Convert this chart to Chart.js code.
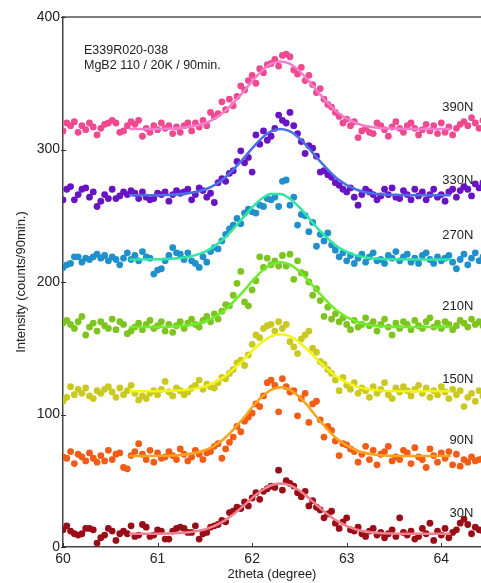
<!DOCTYPE html>
<html>
<head>
<meta charset="utf-8">
<script src="https://cdn.jsdelivr.net/npm/chart.js@4"></script>
<style>
  html, body { margin: 0; padding: 0; background: #fff; overflow: hidden; }
</style>
</head>
<body>
<canvas id="xrdChart" width="481" height="583"></canvas>
<script>
// 2theta sampling grid of the scan (60.00 .. 64.44, 0.04 deg step)
const scanStart = 60;
const scanStep = 0.04;

const loads = ["390N", "330N", "270N", "210N", "150N", "90N", "30N"];

// measured counts, one array per load
const counts390 = [314,320,318,321,313,318,315,320,317,311, 316,319,320,322,320,313,314,318,321,319,
  322,310,316,313,318,315,320,316,318,312, 317,313,318,320,314,320,317,322,318,328,
  325,327,336,330,338,333,340,348,345,352, 356,350,361,358,364,365,368,363,371,372,
  370,360,357,362,352,356,349,343,346,338, 334,332,328,325,320,323,318,321,309,314,
  316,313,312,320,318,315,310,317,321,316, 313,318,320,316,311,315,319,314,318,312,
  320,313,317,311,316,319,321,318,324,320,316,322];
const counts330 = [262,270,272,262,266,270,271,264,268,257, 261,266,263,270,263,265,268,266,269,267,
  263,268,264,262,263,267,266,268,261,266, 269,267,268,270,262,266,271,269,264,267,
  260,275,278,276,282,284,291,299,290,294, 283,311,304,314,307,310,316,326,322,320,
  328,318,312,306,297,303,301,295,283,284, 281,279,275,273,270,268,271,264,258,266,
  270,268,266,262,265,270,266,271,264,263, 269,266,262,270,265,268,262,266,270,264,
  266,261,268,270,264,269,272,270,265,274,271,275];
const counts270 = [211,213,214,219,219,215,218,217,219,221, 218,220,216,219,217,213,218,222,217,220,
  216,223,219,218,206,209,210,216,220,226, 222,221,217,222,216,214,211,219,215,223,
  226,225,231,236,240,243,248,244,252,255, 253,252,258,257,263,262,264,257,276,277,
  258,264,243,251,250,238,245,227,236,231, 237,228,224,219,222,216,220,214,218,221,
  215,219,222,216,217,214,220,218,223,216, 219,221,215,218,214,220,222,217,214,219,
  216,218,220,215,210,217,221,213,218,222,216,219];
const counts210 = [169,171,168,165,170,174,160,166,169,163, 170,167,165,172,164,170,168,161,163,166,
  169,164,168,171,165,167,170,163,168,162, 167,170,165,169,172,168,166,171,174,170,
  176,172,178,183,182,190,199,208,185,182, 194,201,219,211,218,213,216,212,220,212,
  221,202,216,207,206,200,190,195,186,174, 181,172,176,170,173,168,164,171,166,168,
  173,167,170,163,168,172,166,160,169,165, 170,168,164,171,167,165,170,173,166,169,
  165,170,168,164,167,171,169,166,172,168,170,167];
const counts150 = [110,113,121,115,119,116,120,114,112,118, 116,119,121,117,113,120,115,118,122,116,
  111,114,112,116,118,115,119,125,117,114, 120,118,115,117,120,122,126,119,123,121,
  120,124,128,127,131,134,139,141,137,145, 153,160,158,165,167,168,163,170,165,168,
  155,151,146,157,160,163,150,147,140,138, 134,131,126,118,128,122,119,124,116,120,
  118,113,121,116,119,124,115,112,120,117, 121,118,114,119,122,116,120,113,118,115,
  121,117,112,119,115,118,106,113,116,110,118,114];
const counts90 = [68,67,72,63,70,68,65,71,67,64, 69,65,73,66,70,71,60,59,69,72,
  78,70,66,73,64,71,67,68,72,69, 66,74,70,65,68,73,70,66,71,72,
  76,78,67,74,79,83,91,87,95,98, 101,108,106,114,124,126,122,102,127,121,
  117,118,99,112,116,94,108,110,96,83, 91,88,80,69,78,77,74,72,64,70,
  76,66,73,62,70,72,76,65,68,66, 73,71,63,75,68,66,60,74,69,64,
  71,67,72,62,70,61,66,64,68,65,66,67];
const counts30 = [13,16,12,10,9,10,14,14,13,3, 7,9,14,12,5,10,12,10,16,8,
  9,17,15,8,9,13,12,6,6,12, 14,15,14,11,11,16,6,10,11,15,
  16,17,20,19,26,27,30,29,34,31, 37,41,36,42,44,46,45,58,43,50,
  48,46,41,38,42,31,35,30,28,22, 25,27,18,14,19,22,13,12,15,10,
  8,12,14,9,11,7,10,13,8,22, 11,9,12,6,8,14,10,18,5,12,
  9,14,7,11,13,18,21,17,10,15,13,12];

// fitted curves, read at these 2theta positions
const fitX = [60.7, 61.1, 61.5, 61.7, 61.9, 62.0, 62.1, 62.2, 62.3, 62.4, 62.5, 62.6, 62.7, 62.9, 63.1, 63.3, 63.7, 64.1];
const fit390 = [315.5, 315.7, 319.8, 328.2, 343, 351.6, 359.2, 364.6, 366.5, 364.6, 359.2, 351.6, 343, 328.2, 319.8, 316.6, 315.5, 315.5];
const fit330 = [265.5, 265.7, 269.8, 278, 292.5, 300.9, 308.4, 313.6, 315.5, 313.6, 308.4, 300.9, 292.5, 278, 269.8, 266.6, 265.5, 265.5];
const fit270 = [217, 217.3, 222.7, 232.6, 248.2, 256.3, 262.9, 266.5, 266.5, 262.9, 256.3, 248.2, 239.9, 226.8, 220.1, 217.7, 217, 217];
const fit210 = [166, 166.2, 170.2, 178.2, 192.4, 200.6, 208, 213.1, 215, 213.1, 208, 200.6, 192.4, 178.2, 170.2, 167, 166, 166];
const fit150 = [117.5, 117.7, 121.2, 128.2, 140.7, 147.9, 154.4, 158.9, 160.5, 158.9, 154.4, 147.9, 140.7, 128.2, 121.2, 118.4, 117.5, 117.5];
const fit90 = [68.6, 68.8, 73, 81.5, 96.6, 105.4, 113.2, 118.6, 120.6, 118.6, 113.2, 105.4, 96.6, 81.5, 73, 69.7, 68.6, 68.6];
const fit30 = [10, 10.2, 13.2, 19.5, 30.5, 36.9, 42.6, 46.6, 48, 46.6, 42.6, 36.9, 30.5, 19.5, 13.2, 10.8, 10, 10];

const xTicks = [60, 61, 62, 63, 64];
const yTicks = [0, 100, 200, 300, 400];
const header = ["E339R020-038", "MgB2 110 / 20K / 90min."];
const labelY = [331.7, 277, 235.4, 181.9, 126.7, 80.6, 25.4];

const allCounts = [counts390, counts330, counts270, counts210, counts150, counts90, counts30];
const allFits = [fit390, fit330, fit270, fit210, fit150, fit90, fit30];
const dotColors = ["#ef4a90", "#6813c4", "#2090cc", "#7dc41f", "#c9c922", "#f35c16", "#9a0d17"];
const lineColors = ["#f47ccc", "#4a70e8", "#30e6a0", "#6cee2a", "#f4f41c", "#f8a41f", "#f0808e"];

const FONT = '"Liberation Sans", Arial, sans-serif';

const datasets = [];
allFits.forEach((fit, i) => {
  datasets.push({
    type: "line",
    data: fit.map((v, k) => ({ x: fitX[k], y: v })),
    borderColor: lineColors[i],
    borderWidth: 2.5,
    pointRadius: 0,
    fill: false,
    cubicInterpolationMode: "monotone",
    order: 0,
  });
});
allCounts.forEach((vals, i) => {
  datasets.push({
    type: "scatter",
    data: vals.map((v, k) => ({ x: scanStart + k * scanStep, y: v })),
    backgroundColor: dotColors[i],
    borderWidth: 0,
    pointRadius: 3.4,
    order: 1,
  });
});

// top frame line, inward tick marks and the text notes
const decor = {
  id: "decor",
  afterDraw(chart) {
    const { ctx, chartArea: a } = chart;
    const x = chart.scales.x;
    const y = chart.scales.y;
    ctx.save();
    ctx.strokeStyle = "#555";
    ctx.lineWidth = 1.5;
    ctx.beginPath();
    ctx.moveTo(a.left, a.top);
    ctx.lineTo(a.right, a.top);
    ctx.stroke();

    ctx.strokeStyle = "#333";
    ctx.lineWidth = 1;
    ctx.beginPath();
    xTicks.forEach((v) => {
      const p = Math.round(x.getPixelForValue(v)) + 0.5;
      ctx.moveTo(p, a.bottom);
      ctx.lineTo(p, a.bottom - 4);
    });
    yTicks.forEach((v) => {
      const p = Math.round(y.getPixelForValue(v)) + 0.5;
      ctx.moveTo(a.left - 2, p);
      ctx.lineTo(a.left + 3, p);
    });
    ctx.stroke();

    ctx.fillStyle = "#222";
    ctx.font = "13px " + FONT;
    ctx.textAlign = "right";
    ctx.textBaseline = "middle";
    loads.forEach((t, i) => {
      ctx.fillText(t, x.getPixelForValue(64.34), y.getPixelForValue(labelY[i]));
    });

    ctx.textAlign = "left";
    ctx.font = "12.5px " + FONT;
    ctx.fillText(header[0], a.left + 21, a.top + 34);
    ctx.fillText(header[1], a.left + 21, a.top + 49);
    ctx.restore();
  },
};

new Chart(document.getElementById("xrdChart"), {
  type: "scatter",
  data: { datasets: datasets },
  options: {
    responsive: false,
    animation: false,
    devicePixelRatio: 1,
    layout: { autoPadding: false, padding: { top: 17, right: 0, left: 0, bottom: 0 } },
    plugins: {
      legend: { display: false },
      tooltip: { enabled: false },
    },
    scales: {
      x: {
        type: "linear",
        min: 60,
        max: 64.42,
        afterFit: (scale) => {
          scale.height = 36;
          scale.paddingLeft = 0;
          scale.paddingRight = 0;
        },
        grid: { display: false, drawTicks: false },
        border: { display: true, color: "#444", width: 1.5 },
        ticks: {
          stepSize: 1,
          includeBounds: false,
          padding: 4,
          color: "#222",
          font: { family: FONT, size: 14 },
        },
        title: {
          display: true,
          text: "2theta (degree)",
          color: "#222",
          font: { family: FONT, size: 13 },
          padding: { top: 0, bottom: 1 },
        },
      },
      y: {
        type: "linear",
        min: 0,
        max: 400,
        afterFit: (scale) => {
          scale.width = 63;
          scale.paddingTop = 0;
          scale.paddingBottom = 0;
        },
        grid: { display: false, drawTicks: false },
        border: { display: true, color: "#444", width: 1.5 },
        ticks: {
          stepSize: 100,
          padding: 3,
          color: "#222",
          font: { family: FONT, size: 14 },
        },
        title: {
          display: true,
          text: "Intensity (counts/90min.)",
          color: "#222",
          font: { family: FONT, size: 13 },
          padding: { top: 14, bottom: 0 },
        },
      },
    },
  },
  plugins: [decor],
});
</script>
</body>
</html>
